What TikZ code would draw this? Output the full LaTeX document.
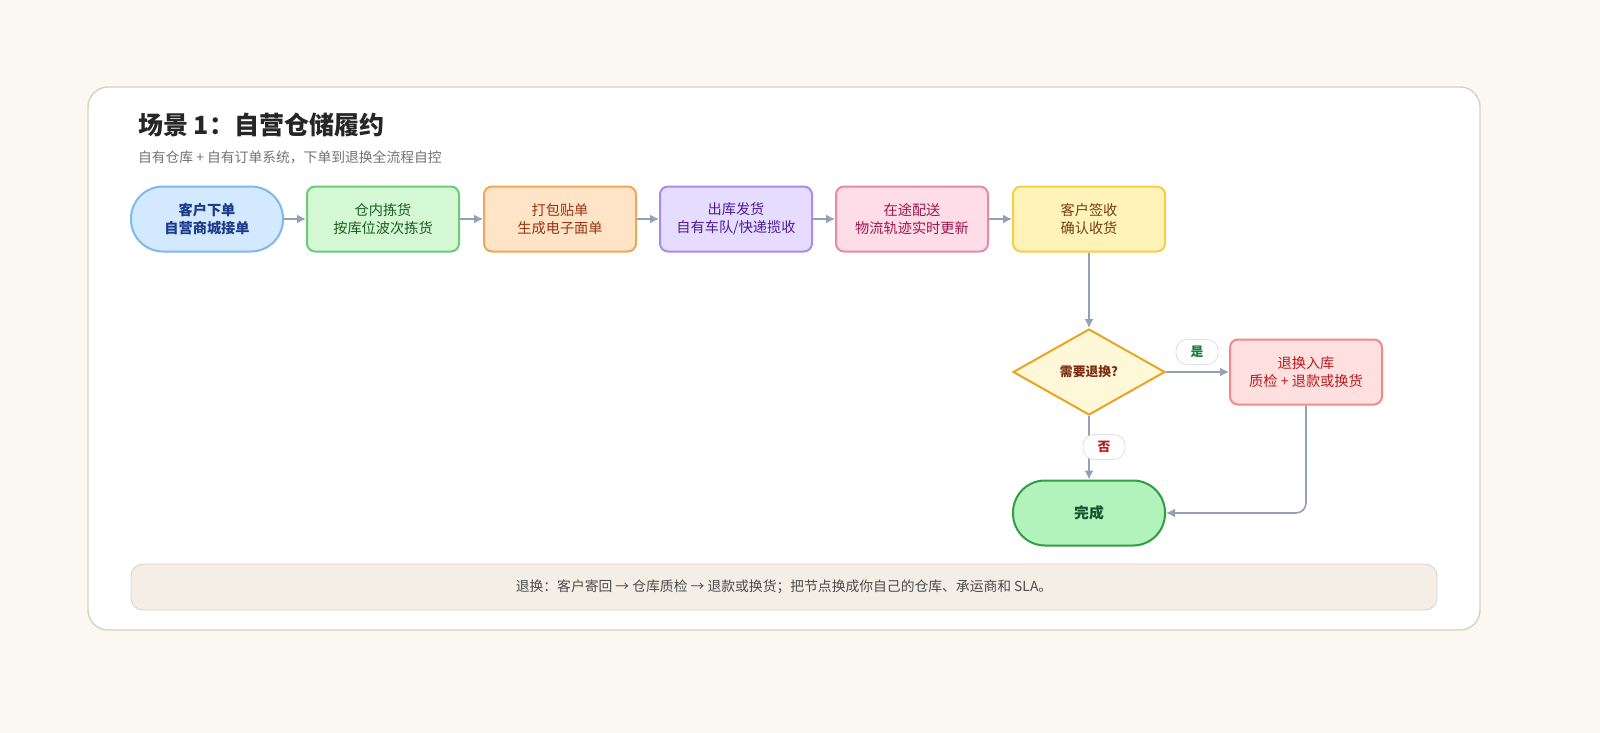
\documentclass[tikz,border=0pt]{standalone}
\usepackage{fontspec}
\setmainfont{Noto Sans CJK SC}
\usetikzlibrary{positioning,arrows.meta,shapes.geometric}
\definecolor{bgpage}{HTML}{FBF8F1}
\definecolor{cardline}{HTML}{D6D2C6}
\definecolor{arrowc}{HTML}{94A0B4}
\definecolor{notefill}{HTML}{F5EEE6}
\definecolor{blueline}{HTML}{7FB8EA}\definecolor{bluefill}{HTML}{D2E9FF}\definecolor{bluetext}{HTML}{1E3A8A}
\definecolor{greenline}{HTML}{6CCB7A}\definecolor{greenfill}{HTML}{D4F7D4}\definecolor{greentext}{HTML}{1B5E20}
\definecolor{orangeline}{HTML}{F0A858}\definecolor{orangefill}{HTML}{FFE4C8}\definecolor{orangetext}{HTML}{9A3412}
\definecolor{purpleline}{HTML}{A98BEA}\definecolor{purplefill}{HTML}{E6DCFF}\definecolor{purpletext}{HTML}{4C1D95}
\definecolor{pinkline}{HTML}{E889A8}\definecolor{pinkfill}{HTML}{FFDDE8}\definecolor{pinktext}{HTML}{9D174D}
\definecolor{yellowline}{HTML}{F2CF4A}\definecolor{yellowfill}{HTML}{FFF3B8}\definecolor{yellowtext}{HTML}{713F12}
\definecolor{askline}{HTML}{E8A522}\definecolor{askfill}{HTML}{FFF8D8}\definecolor{asktext}{HTML}{7C2D12}
\definecolor{redline}{HTML}{F08A8A}\definecolor{redfill}{HTML}{FFE0E0}\definecolor{redtext}{HTML}{B91C1C}
\definecolor{doneline}{HTML}{2F9E44}\definecolor{donefill}{HTML}{B2F2BB}\definecolor{donetext}{HTML}{14532D}
\definecolor{yestext}{HTML}{15803D}
\tikzset{
  stage/.style={draw, line width=1pt, rounded corners=4pt, minimum width=76pt, minimum height=32.5pt, align=center, font=\fontsize{7.1}{9}\selectfont},
  pill/.style={stage, rounded corners=16pt},
  tag/.style={draw=black!12, fill=white, rounded corners=5.5pt, minimum width=21pt, minimum height=11.5pt, font=\fontsize{6.4}{7}\selectfont\bfseries},
  flow/.style={-{Latex[length=4.5pt,width=4.5pt]}, draw=arrowc, line width=0.8pt},
}
\begin{document}
\begin{tikzpicture}[x=0.5pt,y=-0.5pt]
    \useasboundingbox[fill=bgpage] (0,0) rectangle (1600,733);
    \draw[cardline, fill=white, line width=0.7pt, rounded corners=10pt] (88,87) rectangle (1480,630);
    \node[anchor=west, font=\fontsize{12.5}{14}\selectfont\bfseries, text=black!85] (title) at (131,125) {场景 1：自营仓储履约};
    \node[anchor=west, font=\fontsize{6.9}{8}\selectfont, text=black!55] (sub) at (131,157) {自有仓库 + 自有订单系统，下单到退换全流程自控};

    \node[pill, draw=blueline, fill=bluefill, text=bluetext, font=\fontsize{7.1}{9}\selectfont\bfseries] (order) at (207,219) {客户下单\\自营商城接单};
    \node[stage, draw=greenline, fill=greenfill, text=greentext] (pick) at (383,219) {仓内拣货\\按库位波次拣货};
    \node[stage, draw=orangeline, fill=orangefill, text=orangetext] (pack) at (560,219) {打包贴单\\生成电子面单};
    \node[stage, draw=purpleline, fill=purplefill, text=purpletext] (ship) at (736,219) {出库发货\\自有车队/快递揽收};
    \node[stage, draw=pinkline, fill=pinkfill, text=pinktext] (transit) at (912,219) {在途配送\\物流轨迹实时更新};
    \node[stage, draw=yellowline, fill=yellowfill, text=yellowtext] (sign) at (1089,219) {客户签收\\确认收货};

    \node[diamond, draw=askline, line width=1pt, fill=askfill, minimum width=76pt, minimum height=43pt, inner sep=0pt, aspect=1.8, text=asktext, font=\fontsize{6.4}{7}\selectfont\bfseries] (ask) at (1089,372) {需要退换?};
    \node[stage, draw=redline, fill=redfill, text=redtext] (back) at (1306,372) {退换入库\\质检 + 退款或换货};
    \node[pill, draw=doneline, fill=donefill, text=donetext, font=\fontsize{7.4}{9}\selectfont\bfseries] (done) at (1089,513) {完成};

    \foreach \a/\b in {order/pick, pick/pack, pack/ship, ship/transit, transit/sign}
        \draw[flow] (\a) -- (\b);
    \draw[flow] (sign) -- (ask);
    \draw[flow] (ask) -- (back);
    \draw[flow] (ask) -- (done);
    \draw[flow, rounded corners=5pt] (back.south) |- (done.east);
    \node[tag, text=yestext] (yes) at (1197,352) {是};
    \node[tag, text=redtext] (no) at (1104,447) {否};

    \node[draw=cardline, fill=notefill, rounded corners=6pt, minimum width=653pt, minimum height=23pt, font=\fontsize{6.9}{8}\selectfont, text=black!70] (note) at (784,587) {退换：客户寄回 → 仓库质检 → 退款或换货；把节点换成你自己的仓库、承运商和 SLA。};
\end{tikzpicture}
\end{document}
